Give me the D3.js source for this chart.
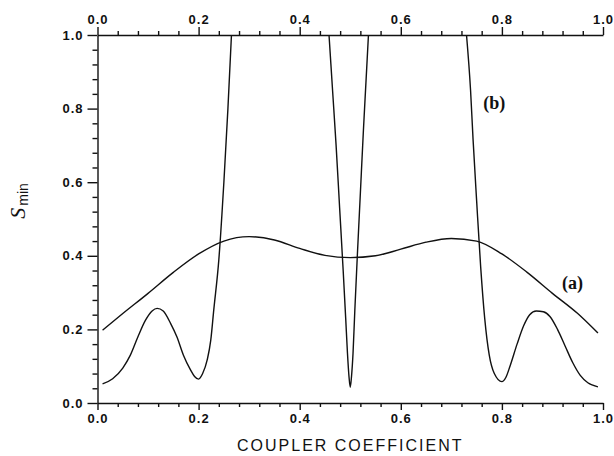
<!DOCTYPE html>
<html>
<head>
<meta charset="utf-8">
<script src="https://cdn.jsdelivr.net/npm/d3@7"></script>
<style>
  body { margin: 0; background: #fff; }
  svg { display: block; }
  .tick text { font-family: "Liberation Sans", Arial, sans-serif; font-weight: bold; font-size: 13px; letter-spacing: 1px; fill: #111; }
  .domain, .tick line { stroke: #111; stroke-width: 1.4; }
</style>
</head>
<body>
<div id="chart"></div>
<script>
const width = 614, height = 456,
margin = ({ top: 35, right: 11, bottom: 53, left: 97.5 });

// curve (a)
const aX = [0.01, 0.05, 0.1, 0.15, 0.2, 0.25, 0.3, 0.35, 0.4, 0.45, 0.5, 0.55, 0.6, 0.65, 0.7, 0.75, 0.8, 0.85, 0.9, 0.95, 0.99];
const aS = [0.198, 0.243, 0.298, 0.355, 0.405, 0.44, 0.452, 0.443, 0.42, 0.401, 0.395, 0.4, 0.418, 0.437, 0.447, 0.44, 0.405, 0.355, 0.298, 0.243, 0.19];

// curve (b), three pieces (it leaves the frame at 1.0)
const bX1 = [0.01, 0.03, 0.05, 0.065, 0.08, 0.095, 0.108, 0.118, 0.13, 0.145, 0.157, 0.17, 0.184, 0.192, 0.2, 0.208, 0.217, 0.224, 0.23, 0.24, 0.25, 0.258, 0.265];
const bS1 = [0.052, 0.066, 0.095, 0.13, 0.18, 0.225, 0.25, 0.257, 0.25, 0.215, 0.18, 0.13, 0.09, 0.072, 0.065, 0.08, 0.117, 0.17, 0.253, 0.389, 0.6, 0.8, 1.0];
const bX2 = [0.458, 0.465, 0.472, 0.479, 0.486, 0.491, 0.4945, 0.4975, 0.5, 0.5025, 0.5055, 0.509, 0.514, 0.52, 0.526, 0.531, 0.536];
const bS2 = [1.0, 0.85, 0.7, 0.53, 0.36, 0.23, 0.135, 0.072, 0.043, 0.072, 0.135, 0.25, 0.4, 0.57, 0.74, 0.87, 1.0];
const bX3 = [0.73, 0.738, 0.743, 0.75, 0.758, 0.766, 0.775, 0.785, 0.8, 0.808, 0.816, 0.83, 0.843, 0.855, 0.868, 0.882, 0.895, 0.91, 0.925, 0.94, 0.955, 0.97, 0.99];
const bS3 = [1.0, 0.85, 0.715, 0.55, 0.37, 0.23, 0.13, 0.08, 0.058, 0.07, 0.1, 0.16, 0.21, 0.24, 0.25, 0.248, 0.235, 0.2, 0.155, 0.11, 0.075, 0.055, 0.044];

const majorTicks = [0, 0.2, 0.4, 0.6, 0.8, 1.0];
const minorTicks = d3.range(0, 1.0001, 0.04).filter(v => Math.abs(v / 0.2 - Math.round(v / 0.2)) > 1e-6);

const svg = d3.select("#chart")
    .append("svg")
    .attr("width", width)
    .attr("height", height);

let x = d3.scaleLinear()
    .domain([0, 1])
    .range([margin.left, width - margin.right]);

let y = d3.scaleLinear()
    .domain([0, 1])
    .range([height - margin.bottom, margin.top]);

const fmt = d3.format(".1f");

// left axis
svg.append("g")
    .attr("transform", `translate(${margin.left},0)`)
    .call(d3.axisLeft(y).tickValues(majorTicks).tickFormat(fmt).tickSize(10).tickSizeOuter(0).tickPadding(4));
svg.append("g")
    .attr("transform", `translate(${margin.left},0)`)
    .call(d3.axisLeft(y).tickValues(minorTicks).tickFormat("").tickSize(5).tickSizeOuter(0))
    .select(".domain").remove();

// top axis
svg.append("g")
    .attr("transform", `translate(0,${margin.top})`)
    .call(d3.axisTop(x).tickValues(majorTicks).tickFormat(fmt).tickSize(8).tickSizeOuter(0).tickPadding(3));
svg.append("g")
    .attr("transform", `translate(0,${margin.top})`)
    .call(d3.axisTop(x).tickValues(minorTicks).tickFormat("").tickSize(4).tickSizeOuter(0))
    .select(".domain").remove();

// bottom axis
svg.append("g")
    .attr("transform", `translate(0,${height - margin.bottom})`)
    .call(d3.axisBottom(x).tickValues(majorTicks).tickFormat(fmt).tickSize(7).tickSizeOuter(0).tickPadding(4));
svg.append("g")
    .attr("transform", `translate(0,${height - margin.bottom})`)
    .call(d3.axisBottom(x).tickValues(minorTicks).tickFormat("").tickSize(4).tickSizeOuter(0))
    .select(".domain").remove();

let line = d3.line()
    .x(d => x(d[0]))
    .y(d => y(d[1]))
    .curve(d3.curveMonotoneX);

const series = [
    d3.zip(aX, aS),
    d3.zip(bX1, bS1),
    d3.zip(bX2, bS2),
    d3.zip(bX3, bS3)
];

svg.selectAll(".curve")
    .data(series)
    .join("path")
    .attr("class", "curve")
    .attr("fill", "none")
    .attr("stroke", "#111")
    .attr("stroke-width", 1.4)
    .attr("d", line);

// curve labels
svg.append("text")
    .attr("x", x(0.763))
    .attr("y", y(0.80))
    .attr("font-family", "Liberation Serif, serif")
    .attr("font-weight", "bold")
    .attr("font-size", 18)
    .attr("fill", "#111")
    .text("(b)");

svg.append("text")
    .attr("x", x(0.919))
    .attr("y", y(0.31))
    .attr("font-family", "Liberation Serif, serif")
    .attr("font-weight", "bold")
    .attr("font-size", 18)
    .attr("fill", "#111")
    .text("(a)");

// x label
svg.append("text")
    .attr("x", (x(0) + x(1)) / 2)
    .attr("y", 451)
    .attr("text-anchor", "middle")
    .attr("font-family", "Liberation Sans, Arial, sans-serif")
    .attr("font-size", 16)
    .attr("letter-spacing", "2px")
    .attr("fill", "#111")
    .text("COUPLER COEFFICIENT");

// y label
let yl = svg.append("text")
    .attr("transform", "translate(25,201) rotate(-90)")
    .attr("text-anchor", "middle")
    .attr("fill", "#111");
yl.append("tspan")
    .attr("font-family", "Liberation Serif, serif")
    .attr("font-style", "italic")
    .attr("font-size", 22)
    .text("S");
yl.append("tspan")
    .attr("dx", 2)
    .attr("dy", 3)
    .attr("font-family", "Liberation Sans, Arial, sans-serif")
    .attr("font-size", 14)
    .text("min");
</script>
</body>
</html>
